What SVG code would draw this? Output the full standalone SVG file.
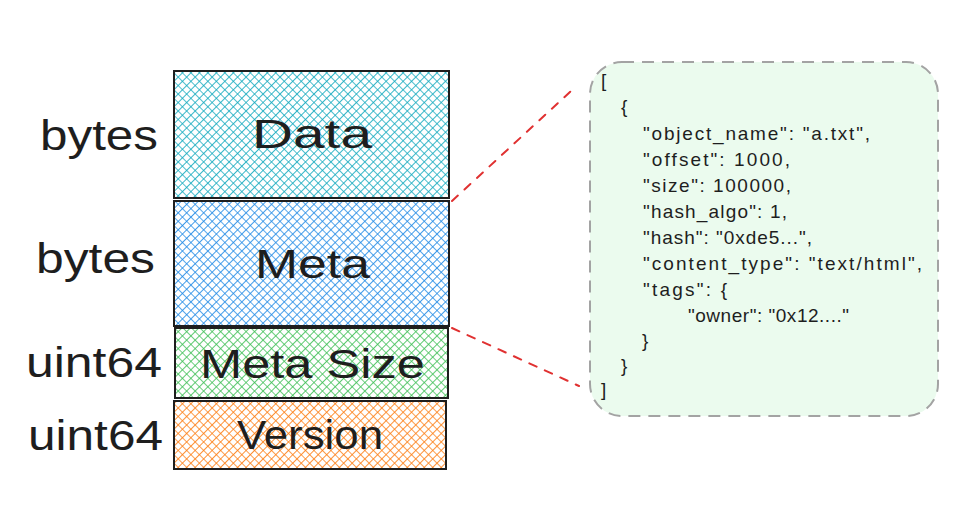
<svg xmlns="http://www.w3.org/2000/svg" width="976" height="531" viewBox="0 0 976 531">
  <style>
    .box { stroke: #1e1e1e; stroke-width: 2; }
    .lbl { font-family: "Liberation Sans", "DejaVu Sans", sans-serif; font-size: 40px; fill: #1e1e1e; }
    .type { font-family: "Liberation Sans", "DejaVu Sans", sans-serif; font-size: 42px; fill: #1e1e1e; text-anchor: end; }
    .json { font-family: "Liberation Sans", "DejaVu Sans", sans-serif; font-size: 19px; fill: #1e1e1e; }
    .link { stroke: #e03131; stroke-width: 2; stroke-dasharray: 8 9; fill: none; stroke-linecap: round; }
  </style>
  <defs>
    <pattern id="hCyan" width="6" height="6" patternUnits="userSpaceOnUse" patternTransform="rotate(45)">
      <path d="M0 0V6M0 0H6" stroke="#15aabf" stroke-width="1.7"/>
    </pattern>
    <pattern id="hBlue" width="6" height="6" patternUnits="userSpaceOnUse" patternTransform="rotate(45)">
      <path d="M0 0V6M0 0H6" stroke="#228be6" stroke-width="1.7"/>
    </pattern>
    <pattern id="hGreen" width="6" height="6" patternUnits="userSpaceOnUse" patternTransform="rotate(45)">
      <path d="M0 0V6M0 0H6" stroke="#40c057" stroke-width="1.7"/>
    </pattern>
    <pattern id="hOrange" width="6" height="6" patternUnits="userSpaceOnUse" patternTransform="rotate(45)">
      <path d="M0 0V6M0 0H6" stroke="#fd7e14" stroke-width="1.7"/>
    </pattern>
  </defs>
  <rect width="976" height="531" fill="#ffffff"/>

  <g id="connectors">
    <line class="link" x1="452" y1="201" x2="571" y2="91"/>
    <line class="link" x1="452" y1="328" x2="579" y2="386"/>
  </g>

  <g id="data">
    <rect class="box" x="174" y="71" width="275" height="127" fill="url(#hCyan)"/>
    <text class="lbl" x="252" y="148" textLength="120" lengthAdjust="spacingAndGlyphs">Data</text>
    <text class="type" x="158" y="150" textLength="118" lengthAdjust="spacingAndGlyphs">bytes</text>
  </g>

  <g id="meta">
    <rect class="box" x="174" y="201" width="275" height="125" fill="url(#hBlue)"/>
    <text class="lbl" x="255" y="278" textLength="115" lengthAdjust="spacingAndGlyphs">Meta</text>
    <text class="type" x="155" y="273" textLength="119" lengthAdjust="spacingAndGlyphs">bytes</text>
  </g>

  <g id="meta-size">
    <rect class="box" x="175" y="328" width="273" height="70" fill="url(#hGreen)"/>
    <text class="lbl" x="200" y="378" textLength="225" lengthAdjust="spacingAndGlyphs">Meta Size</text>
    <text class="type" x="162" y="377" textLength="136" lengthAdjust="spacingAndGlyphs">uint64</text>
  </g>

  <g id="version">
    <rect class="box" x="174" y="401" width="272" height="68" fill="url(#hOrange)"/>
    <text class="lbl" x="237" y="449" textLength="146" lengthAdjust="spacingAndGlyphs">Version</text>
    <text class="type" x="163" y="450" textLength="135" lengthAdjust="spacingAndGlyphs">uint64</text>
  </g>

  <g id="meta-json">
    <rect x="590" y="62" width="348" height="354" rx="32" ry="32" fill="#ebfbee" stroke="#a3a3a3" stroke-width="2" stroke-dasharray="12 8"/>
    <text class="json" x="601" y="87">[</text>
    <text class="json" x="621" y="113">{</text>
    <text class="json" x="643" y="140" textLength="227" lengthAdjust="spacing">"object_name": "a.txt",</text>
    <text class="json" x="643" y="166" textLength="147" lengthAdjust="spacing">"offset": 1000,</text>
    <text class="json" x="643" y="192" textLength="148" lengthAdjust="spacing">"size": 100000,</text>
    <text class="json" x="643" y="218" textLength="144" lengthAdjust="spacing">"hash_algo": 1,</text>
    <text class="json" x="643" y="244" textLength="169" lengthAdjust="spacing">"hash": "0xde5...",</text>
    <text class="json" x="643" y="270" textLength="279" lengthAdjust="spacing">"content_type": "text/html",</text>
    <text class="json" x="643" y="296" textLength="84" lengthAdjust="spacing">"tags": {</text>
    <text class="json" x="688" y="322" textLength="161" lengthAdjust="spacing">"owner": "0x12...."</text>
    <text class="json" x="642" y="347">}</text>
    <text class="json" x="621" y="372">}</text>
    <text class="json" x="601" y="396">]</text>
  </g>
</svg>
